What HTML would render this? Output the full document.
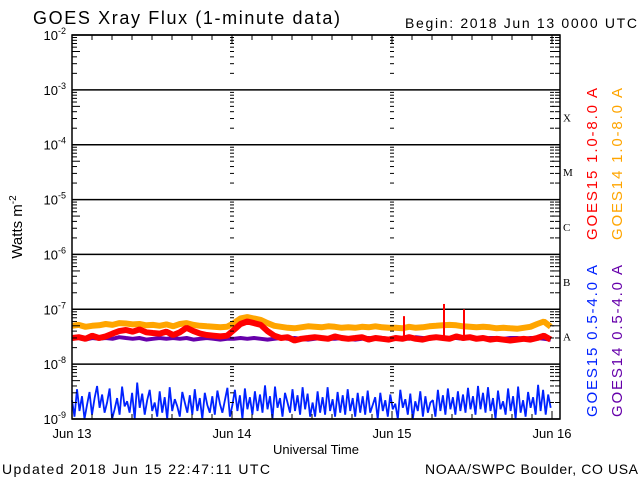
<!DOCTYPE html>
<html><head><meta charset="utf-8"><style>
body{margin:0;background:#fff;}
svg{display:block;font-family:"Liberation Sans",sans-serif;}
</style></head><body>
<svg id="chart" width="640" height="480" viewBox="0 0 640 480">
<rect width="640" height="480" fill="#fff"/>
<text x="33" y="24" font-size="18" fill="#000" textLength="307">GOES Xray Flux (1-minute data)</text>
<text x="405" y="28" font-size="14" fill="#000" textLength="232">Begin:  2018 Jun 13 0000 UTC</text>
<text transform="translate(22,227) rotate(-90)" text-anchor="middle" font-size="15" fill="#000">Watts m<tspan dy="-6" font-size="10">-2</tspan></text>
<text x="316" y="454" text-anchor="middle" font-size="13" fill="#000">Universal Time</text>
<text x="2" y="474" font-size="14" fill="#000" textLength="268">Updated 2018 Jun 15 22:47:11 UTC</text>
<text x="638" y="474" text-anchor="end" font-size="14" fill="#000" textLength="213">NOAA/SWPC Boulder, CO USA</text>
<g id="grid"></g><g id="series"></g><g id="axes"></g>
<text transform="translate(597,164) rotate(-90)" text-anchor="middle" font-size="15" fill="#ff0000" textLength="152">GOES15 1.0-8.0 A</text>
<text transform="translate(622,164) rotate(-90)" text-anchor="middle" font-size="15" fill="#ffa500" textLength="152">GOES14 1.0-8.0 A</text>
<text transform="translate(597,341) rotate(-90)" text-anchor="middle" font-size="15" fill="#0022ff" textLength="152">GOES15 0.5-4.0 A</text>
<text transform="translate(622,341) rotate(-90)" text-anchor="middle" font-size="15" fill="#6600aa" textLength="152">GOES14 0.5-4.0 A</text>
</svg>
<script>
const dayLabels=["Jun 13","Jun 14","Jun 15","Jun 16"];
const decades=[-9,-8,-7,-6,-5,-4,-3,-2];
const classLabels=["A","B","C","M","X"];
// hourly values x1e-8 (72 per series)
const g15long=[3.0,3.1,2.9,3.3,3.0,3.2,3.6,4.0,4.2,3.9,4.3,3.8,3.7,3.6,3.9,3.4,3.8,4.6,4.0,3.6,3.4,3.3,3.2,3.3,
4.2,5.4,6.0,5.6,5.2,4.0,3.3,3.0,3.1,2.7,2.9,3.0,3.1,3.0,2.9,3.2,3.0,2.9,3.0,3.1,2.8,3.0,2.9,2.8,
3.0,2.9,3.1,2.9,2.8,3.0,3.1,3.0,2.9,3.2,3.0,3.1,2.9,3.0,2.8,2.9,2.8,2.7,2.8,2.9,2.8,3.0,3.3,2.8];
const g14long=[5.0,5.2,4.8,5.0,5.1,5.4,5.2,5.6,5.5,5.3,5.4,5.1,5.2,5.0,5.3,4.9,5.4,5.6,5.2,5.0,4.9,4.8,4.7,4.8,
5.6,6.8,7.2,6.8,6.4,5.6,5.0,4.8,4.6,4.5,4.7,4.9,4.8,4.7,4.9,4.8,4.6,4.7,4.6,4.8,4.7,4.9,4.7,4.6,
4.6,4.5,4.8,4.6,4.7,4.9,5.0,5.1,5.2,5.1,4.9,4.8,4.7,4.8,4.7,4.5,4.6,4.5,4.4,4.6,4.8,5.4,6.0,4.8];
const g14short=[2.9,3.0,2.8,3.0,2.9,3.0,2.9,3.1,3.0,2.9,3.0,2.8,2.9,3.0,2.9,3.0,2.9,3.0,2.8,2.9,3.0,2.9,2.8,2.9,
2.9,3.0,2.9,3.0,2.9,2.8,2.9,3.0,2.9,3.0,2.9,2.8,2.9,3.0,2.9,2.9,3.0,2.9,2.8,2.9,3.0,2.9,3.0,2.9,
3.0,3.0,2.9,3.1,3.0,2.9,3.0,3.1,3.0,3.0,2.9,3.0,3.0,2.9,3.0,3.0,2.9,3.0,3.0,2.9,3.0,3.0,2.9,2.8];
// GOES15 short, values x1e-9, 20-minute samples (216)
const g15short=[2.2,1.1,3.5,1.4,2.6,1.0,1.8,3.1,1.2,2.4,4.0,1.6,2.8,1.3,2.0,3.6,1.0,1.5,2.4,1.2,3.9,1.7,2.1,1.3,
3.0,1.0,4.6,1.6,2.9,1.2,2.2,3.4,1.4,2.0,1.1,3.2,1.3,2.5,1.0,3.8,1.4,2.3,1.7,1.1,3.1,2.0,1.3,2.7,
1.2,3.5,1.4,2.4,1.0,3.0,1.8,1.3,2.6,1.2,3.3,1.9,1.3,2.2,3.7,1.1,1.8,3.4,1.4,2.7,1.0,3.6,1.5,2.5,
1.2,3.2,1.4,2.8,1.3,4.1,1.5,2.6,1.0,3.9,1.6,2.4,1.1,3.0,2.0,1.3,3.5,1.4,2.7,1.2,3.8,1.5,2.9,1.1,
2.0,1.1,3.2,1.3,2.5,1.2,3.8,1.4,2.3,1.1,3.1,1.3,2.7,1.2,3.5,1.4,2.4,1.1,3.0,1.3,2.6,1.2,3.3,1.3,
1.8,2.5,1.0,3.0,1.4,2.2,1.1,2.8,1.5,1.9,1.0,3.4,1.6,2.3,1.2,2.9,1.0,2.1,1.4,3.2,1.1,2.6,1.3,2.0,
2.2,1.1,3.4,1.4,2.7,1.2,3.6,1.5,2.5,1.2,3.2,1.4,2.8,1.3,3.7,1.5,2.6,1.2,4.0,1.5,3.0,1.3,3.8,1.4,
2.4,1.0,3.3,1.5,2.1,1.2,3.6,1.4,2.6,1.0,3.9,1.3,2.2,1.1,3.1,1.6,2.5,1.2,4.2,1.4,3.4,1.2,2.8,1.6];
// spikes on GOES15 long: hour and peak value
const spikeHours=[49.8,55.8,58.8];
const spikeValues=[7.5e-8,1.25e-7,1.0e-7];
const scales={long15:1e-8,long14:1e-8,short14:1e-8,short15:1e-9};

const X0=72,DAY=160,XR=560,TOP=35,DEC=54.857;
const xs=h=>X0+h*DAY/24;
const ys=v=>TOP+(-2-Math.log10(v))*DEC;
const NS="http://www.w3.org/2000/svg";
function mk(parent,tag,attrs){const e=document.createElementNS(NS,tag);for(const k in attrs)e.setAttribute(k,attrs[k]);parent.appendChild(e);return e;}
const grid=document.getElementById('grid'),axes=document.getElementById('axes'),series=document.getElementById('series');
decades.forEach(d=>{
  const y=ys(Math.pow(10,d));
  const l=mk(grid,'line',{x1:X0,x2:XR,y1:y,y2:y,stroke:'#000','stroke-width':1.5});
  
  
  const t=mk(axes,'text',{x:X0-6,y:y+5,'text-anchor':'end','font-size':13,fill:'#000'});
  
  
  t.textContent='10';
  const s=mk(t,'tspan',{dy:-6,'font-size':9});s.textContent=String(d);
  if(d<-2){for(let m=2;m<=9;m++){const yy=ys(m*Math.pow(10,d));
    const len=m==5?8:5;
    [X0,XR-len].forEach(x=>mk(axes,'line',{x1:x,x2:x+len,y1:yy,y2:yy,stroke:'#000','stroke-width':1}));
    [1,2,3].forEach(k=>mk(axes,'line',{x1:xs(24*k)-2,x2:xs(24*k)+2,y1:yy,y2:yy,stroke:'#000','stroke-width':1}));
  }}
});
classLabels.forEach((c,i)=>{const y=ys(Math.pow(10,-7.5+i));
  const t=mk(axes,'text',{x:563,y:y+4,'font-size':11,'font-family':'Liberation Serif, serif',fill:'#000'});
  
  
  t.textContent=c;});
for(let h=0;h<=72;h+=3){const x=xs(h);const len=h%24==0?8:5;
  mk(axes,'line',{x1:x,x2:x,y1:TOP,y2:TOP+len,stroke:'#000'});
  mk(axes,'line',{x1:x,x2:x,y1:419-len,y2:419,stroke:'#000'});}
dayLabels.forEach((d,i)=>{const t=mk(axes,'text',{x:xs(24*i),y:438,'text-anchor':'middle','font-size':13,fill:'#000'});
  
  
  t.textContent=d;});
const fr=mk(axes,'rect',{x:X0,y:TOP,width:XR-X0,height:419-TOP,fill:'none',stroke:'#000','stroke-width':1.5});


function draw(arr,scale,color,name,w){
  const pts=arr.map((v,i)=>xs(i*71.8/(arr.length-1)).toFixed(1)+','+ys(Math.max(v*scale,1e-9)).toFixed(1)).join(' ');
  const p=mk(series,'polyline',{points:pts,fill:'none',stroke:color,'stroke-width':w,'stroke-linejoin':'bevel'});
  
  
}
draw(g15short,scales.short15,'#0022ff','series-goes15-short',1.8);
draw(g14short,scales.short14,'#6600aa','series-goes14-short',4);
draw(g14long,scales.long14,'#ffa500','series-goes14-long',6);
draw(g15long,scales.long15,'#ff0000','series-goes15-long',6);
spikeHours.forEach((h,i)=>{const l=mk(series,'line',{x1:xs(h),x2:xs(h),y1:ys(3e-8),y2:ys(spikeValues[i]),stroke:'#ff0000','stroke-width':2});
  
  });
</script>
</body></html>
